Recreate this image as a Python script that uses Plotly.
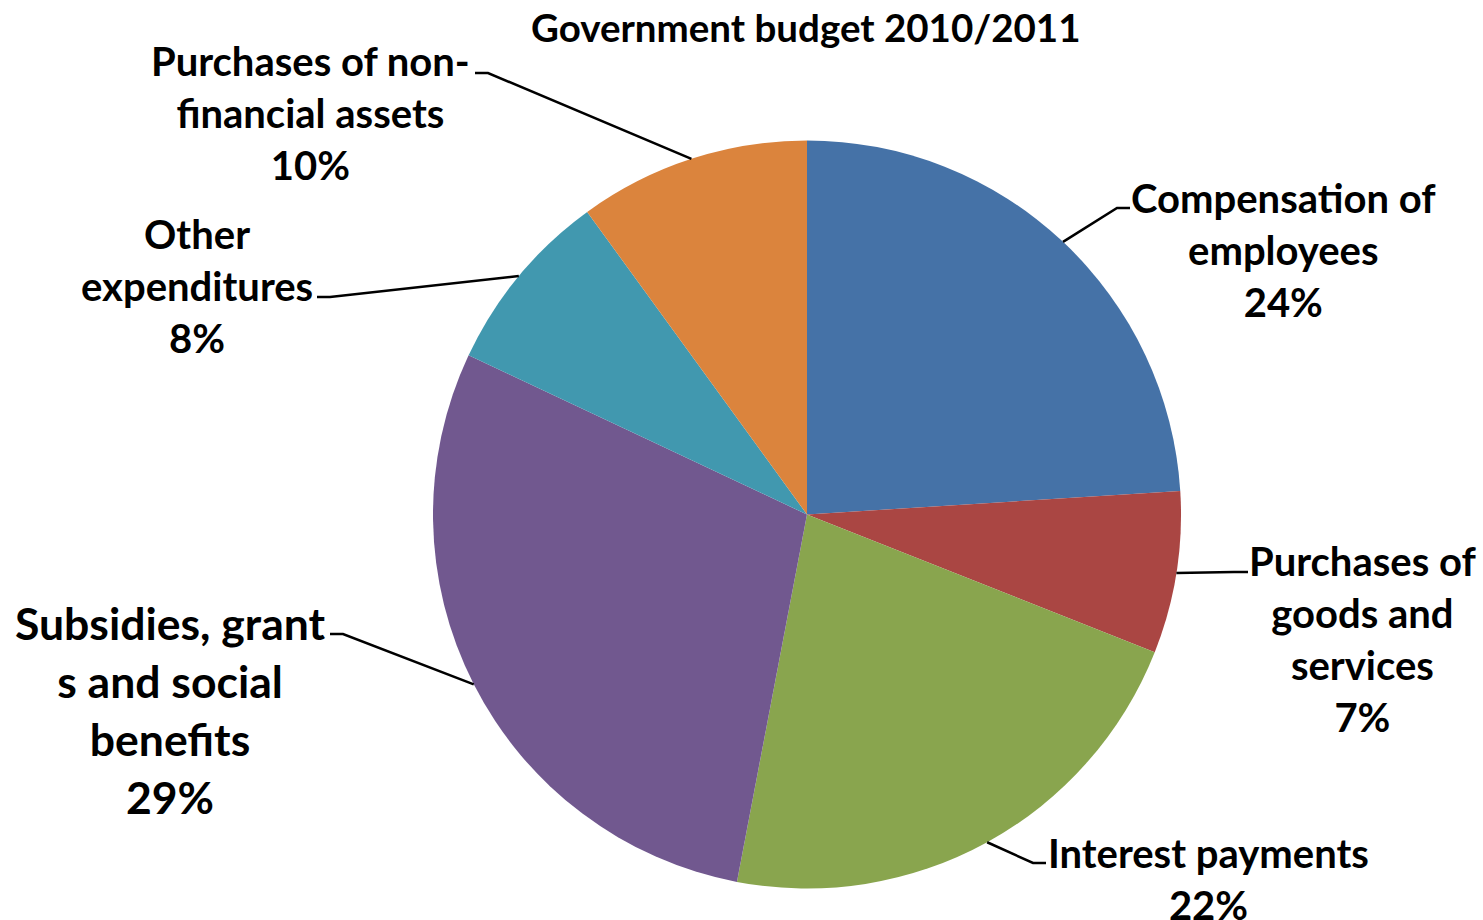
import math
import plotly.graph_objects as go

# Budget shares (percent), in clockwise order from 12 o'clock
categories = [
    "Compensation of employees",
    "Purchases of goods and services",
    "Interest payments",
    "Subsidies, grants and social benefits",
    "Other expenditures",
    "Purchases of non-financial assets",
]
shares = [24, 7, 22, 29, 8, 10]
# Label text as wrapped on the chart
label_lines = [
    ["Compensation of", "employees"],
    ["Purchases of", "goods and", "services"],
    ["Interest payments"],
    ["Subsidies, grant", "s and social", "benefits"],
    ["Other", "expenditures"],
    ["Purchases of non-", "financial assets"],
]
colors = ["#4572A7", "#AA4643", "#89A54E", "#71588F", "#4198AF", "#DB843D"]
title_text = "Government budget 2010/2011"

W, H = 1483, 920
CX, CY, R = 807, 514.5, 374  # pie centre and radius, px

# label block centre (px), leader elbow (px), horizontal stub end (px), font size
label_layout = [
    dict(cx=1283, cy=250, elbow=(1117, 208), end=(1130, 208), size=40),
    dict(cx=1362, cy=639, elbow=(1234, 572), end=(1248, 572), size=40),
    dict(cx=1208, cy=879, elbow=(1033, 863), end=(1046, 863), size=40),
    dict(cx=170, cy=709.5, elbow=(343, 634), end=(330, 634), size=44.5),
    dict(cx=197, cy=286, elbow=(330, 297), end=(317, 297), size=40),
    dict(cx=310, cy=113, elbow=(488, 73), end=(475, 73), size=40),
]

FONT = "Lato"


def px(x):
    return x / W


def py(y):
    return 1 - y / H


fig = go.Figure()
fig.add_trace(go.Pie(
    labels=categories,
    values=shares,
    sort=False,
    direction="clockwise",
    rotation=0,
    marker=dict(colors=colors, line=dict(width=0)),
    textinfo="none",
    textposition="none",
    hoverinfo="label+percent",
    showlegend=False,
    domain=dict(x=[px(CX - R), px(CX + R)], y=[py(CY + R), py(CY - R)]),
))

total = sum(shares)
cum = 0.0
shapes, annotations = [], []
for lines, v, lay in zip(label_lines, shares, label_layout):
    mid = (cum + v / 2) / total * 2 * math.pi
    cum += v
    ex, ey = CX + R * math.sin(mid), CY - R * math.cos(mid)
    (bx, by), (tx, ty) = lay["elbow"], lay["end"]
    shapes.append(dict(
        type="path", xref="paper", yref="paper",
        path=f"M {px(ex)} {py(ey)} L {px(bx)} {py(by)} L {px(tx)} {py(ty)}",
        line=dict(color="black", width=2.5),
    ))
    pct = round(v / total * 100)
    text = "<br>".join(lines + [f"{pct}%"])
    annotations.append(dict(
        xref="paper", yref="paper", x=px(lay["cx"]), y=py(lay["cy"]),
        xanchor="center", yanchor="middle", align="center",
        text=text, showarrow=False,
        font=dict(family=FONT, size=lay["size"], color="black", weight="bold"),
    ))

# chart title
annotations.append(dict(
    xref="paper", yref="paper", x=px(806), y=py(27),
    xanchor="center", yanchor="middle",
    text=title_text, showarrow=False,
    font=dict(family=FONT, size=38.5, color="black", weight="bold"),
))

fig.update_layout(
    width=W, height=H,
    margin=dict(l=0, r=0, t=0, b=0),
    paper_bgcolor="white", plot_bgcolor="white",
    shapes=shapes,
    annotations=annotations,
)

fig.write_html("out.html")
